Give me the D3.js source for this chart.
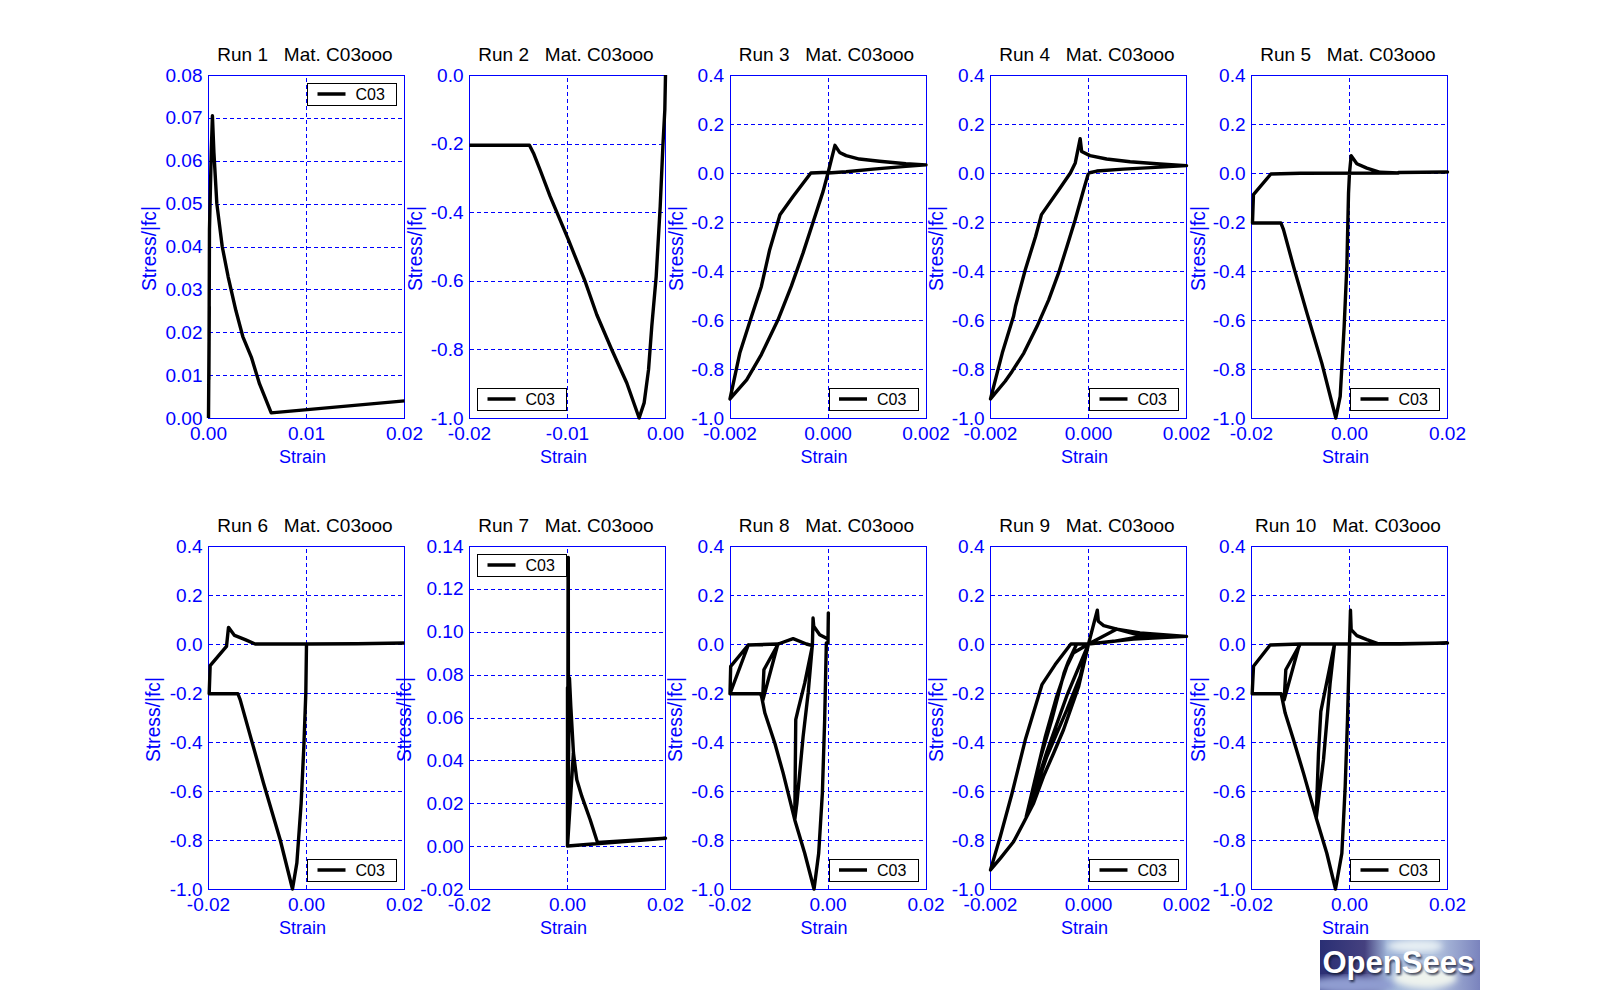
<!DOCTYPE html>
<html>
<head>
<meta charset="utf-8">
<script src="https://cdnjs.cloudflare.com/ajax/libs/d3/7.8.5/d3.min.js"></script>
<style>
  html, body { margin: 0; padding: 0; background: #fff; }
  text { font-family: "Liberation Sans", Arial, sans-serif; white-space: pre; }
</style>
</head>
<body>
<svg id="canvas" width="1600" height="1000"></svg>
<script>
// strain, stress/|fc|
const run1 = [[0,0],[0.00008,0.026],[0.00004,0.009],[0.0001,0.044],[0.00028,0.062],[0.0004,0.0705],[0.00055,0.062],[0.00085,0.05],[0.0014,0.04],[0.002,0.033],[0.0028,0.025],[0.0035,0.019],[0.0044,0.014],[0.0052,0.008],[0.0064,0.0012],[0.02,0.004]];
const run2 = [[0,0],[-0.00007,-0.102],[-0.00027,-0.209],[-0.00054,-0.383],[-0.00095,-0.587],[-0.0014,-0.733],[-0.00173,-0.859],[-0.00218,-0.956],[-0.00269,-1],[-0.00395,-0.898],[-0.00548,-0.801],[-0.00701,-0.699],[-0.0082,-0.602],[-0.0099,-0.481],[-0.01177,-0.354],[-0.01279,-0.277],[-0.01347,-0.228],[-0.01388,-0.205],[-0.02,-0.205]];
const run3 = [[0,0],[0.000142,0.113],[0.000237,0.084],[0.00037,0.071],[0.00064,0.057],[0.00105,0.048],[0.00159,0.038],[0.002,0.033],[0.00159,0.027],[0.00092,0.016],[0.00037,0.005],[0,0],[-0.0001,-0.075],[-0.00031,-0.204],[-0.00051,-0.327],[-0.00075,-0.463],[-0.00102,-0.599],[-0.00136,-0.741],[-0.00166,-0.844],[-0.002,-0.922],[-0.0018,-0.735],[-0.00156,-0.585],[-0.00136,-0.463],[-0.00119,-0.313],[-0.00098,-0.17],[-0.00071,-0.095],[-0.00035,0],[0,0.003]];
const run4 = [[0,0],[-0.0001,-0.068],[-0.00027,-0.19],[-0.00044,-0.3],[-0.00061,-0.408],[-0.00081,-0.517],[-0.00105,-0.626],[-0.00132,-0.735],[-0.00156,-0.81],[-0.0017,-0.85],[-0.002,-0.922],[-0.00176,-0.735],[-0.00153,-0.585],[-0.00149,-0.544],[-0.00129,-0.395],[-0.00108,-0.259],[-0.00096,-0.17],[-0.00058,-0.061],[-0.00037,0],[-0.00027,0.041],[-0.00017,0.14],[-0.00014,0.088],[0.00003,0.071],[0.00037,0.057],[0.00085,0.046],[0.00146,0.037],[0.002,0.03],[0.00146,0.024],[0.00071,0.016],[0.00017,0.008],[0,0]];
const run5 = [[0,0],[0.00034,0.071],[0.0015,0.038],[0.00354,0.02],[0.00626,0.003],[0.01,0],[0.01,0.002],[0.02,0.004],[0.01,0.002],[0.01,0],[-0.01,-0.001],[-0.01605,-0.004],[-0.0196,-0.088],[-0.0198,-0.204],[-0.014,-0.204],[-0.01347,-0.231],[-0.01143,-0.381],[-0.0087,-0.571],[-0.00565,-0.776],[-0.00279,-1],[-0.0019,-0.912],[-0.00109,-0.626],[-0.00054,-0.381],[-0.0002,-0.082],[0,0]];
const run6 = [[0,0],[-0.00014,-0.2],[-0.00054,-0.418],[-0.00109,-0.649],[-0.00197,-0.894],[-0.00286,-1],[-0.00537,-0.799],[-0.00878,-0.567],[-0.01354,-0.227],[-0.014,-0.203],[-0.01986,-0.203],[-0.01966,-0.088],[-0.01633,-0.01],[-0.01592,0.068],[-0.01469,0.035],[-0.01252,0.018],[-0.01048,0],[0,0],[0.01027,0.001],[0.02,0.004]];
const run7 = [[0,0],[0,0.074],[0.00005,0.01],[0.00012,0.1347],[0.00016,0.1347],[0.0002,0.03],[0,0],[0.0004,0.0784],[0.00068,0.065],[0.00122,0.0434],[0.0019,0.031],[0.00293,0.0232],[0.00463,0.0123],[0.00612,0.0017],[0.02,0.0037],[0.00068,0.0002],[0,0],[0.0012,0.0434]];
const run8 = [[0,0],[0.00007,0.127],[0,0.02],[-0.0017,0.038],[-0.00291,0.072],[-0.00305,0.106],[-0.00318,0],[-0.00405,-0.2],[-0.00508,-0.378],[-0.00635,-0.65],[-0.00678,-0.718],[-0.00658,-0.309],[-0.0061,-0.268],[-0.00475,-0.16],[-0.00318,-0.007],[-0.0044,0],[-0.00712,0.022],[-0.01017,0],[-0.01037,-0.01],[-0.01336,-0.234],[-0.01308,-0.105],[-0.01017,0],[-0.01627,-0.004],[-0.01986,-0.091],[-0.02,-0.203],[-0.01627,-0.004],[-0.02,-0.203],[-0.0138,-0.203],[-0.01356,-0.214],[-0.01288,-0.282],[-0.01085,-0.405],[-0.00915,-0.527],[-0.00678,-0.718],[-0.00475,-0.854],[-0.00285,-1],[-0.0019,-0.854],[-0.00115,-0.609],[-0.00068,-0.309],[-0.00034,0.004],[0,0]];
const run9 = [[0,0],[0.00018,0.138],[0.0002,0.093],[0.00031,0.075],[0.00058,0.061],[0.00105,0.045],[0.002,0.031],[0.00105,0.03],[0.00051,0.011],[0,0],[0.00058,0.061],[0.00105,0.035],[0.002,0.031],[0.00092,0.02],[0,0],[-0.0002,-0.173],[-0.00051,-0.35],[-0.00071,-0.445],[-0.00092,-0.541],[-0.00112,-0.65],[-0.00133,-0.732],[-0.00153,-0.807],[-0.0018,-0.875],[-0.002,-0.922],[-0.0018,-0.786],[-0.00156,-0.609],[-0.00129,-0.391],[-0.00095,-0.166],[-0.00068,-0.084],[-0.00036,0],[0,0],[-0.00017,-0.132],[-0.00044,-0.268],[-0.00085,-0.459],[-0.00127,-0.704],[-0.00099,-0.473],[-0.00075,-0.309],[-0.0005,-0.119],[-0.00041,-0.071],[-0.00024,0],[0,0],[-0.00031,-0.037],[-0.00044,-0.091],[-0.00065,-0.214],[-0.00088,-0.377],[-0.00127,-0.704],[-0.00085,-0.44],[-0.00044,-0.21],[0,0]];
const run10 = [[0,0],[0.0002,0.138],[0.00034,0.059],[0.0015,0.034],[0.00354,0.018],[0.00592,0.001],[0.01034,0.001],[0.02,0.004],[0.01034,0],[-0.00306,0],[-0.00395,-0.159],[-0.00531,-0.473],[-0.0068,-0.711],[-0.00633,-0.445],[-0.00585,-0.275],[-0.00306,0],[-0.01007,0],[-0.01041,-0.016],[-0.01333,-0.228],[-0.013,-0.105],[-0.01007,0],[-0.01619,-0.004],[-0.01959,-0.091],[-0.01986,-0.203],[-0.01395,-0.203],[-0.01313,-0.282],[-0.01143,-0.391],[-0.00939,-0.527],[-0.00667,-0.718],[-0.00463,-0.854],[-0.00286,-1],[-0.00156,-0.854],[-0.00088,-0.582],[-0.00041,-0.309],[0,0]];

const ticksWide = [-0.02, 0, 0.02];
const ticksNarrow = [-0.002, 0, 0.002];
const ticksRun1X = [0, 0.01, 0.02];
const ticksRun2X = [-0.02, -0.01, 0];
const stressTicks = [-1, -0.8, -0.6, -0.4, -0.2, 0, 0.2, 0.4];
const ticksRun1Y = [0, 0.01, 0.02, 0.03, 0.04, 0.05, 0.06, 0.07, 0.08];
const ticksRun2Y = [-1, -0.8, -0.6, -0.4, -0.2, 0];
const ticksRun7Y = [-0.02, 0, 0.02, 0.04, 0.06, 0.08, 0.1, 0.12, 0.14];

const LEFTS = [208.5, 469.5, 730, 990.5, 1251.5];
const TOPS = [75, 546];
const W = 196;
const H = 343;
const BLUE = '#0000ff';
const LEG_W = 89;
const LEG_H = 22;

const panels = [
  {curve: run1, xt: ticksRun1X, yt: ticksRun1Y, xd: 2, yd: 2, leg: 'tr', lab: 53},
  {curve: run2, xt: ticksRun2X, yt: ticksRun2Y, xd: 2, yd: 1, leg: 'bl', lab: 48},
  {curve: run3, xt: ticksNarrow, yt: stressTicks, xd: 3, yd: 1, leg: 'br', lab: 47.5},
  {curve: run4, xt: ticksNarrow, yt: stressTicks, xd: 3, yd: 1, leg: 'br', lab: 47.5},
  {curve: run5, xt: ticksWide, yt: stressTicks, xd: 2, yd: 1, leg: 'br', lab: 47},
  {curve: run6, xt: ticksWide, yt: stressTicks, xd: 2, yd: 1, leg: 'br', lab: 49},
  {curve: run7, xt: ticksWide, yt: ticksRun7Y, xd: 2, yd: 2, leg: 'tl', lab: 59},
  {curve: run8, xt: ticksWide, yt: stressTicks, xd: 2, yd: 1, leg: 'br', lab: 48},
  {curve: run9, xt: ticksNarrow, yt: stressTicks, xd: 3, yd: 1, leg: 'br', lab: 47.5},
  {curve: run10, xt: ticksWide, yt: stressTicks, xd: 2, yd: 1, leg: 'br', lab: 47}
];

const canvas = d3.select('#canvas');

panels.forEach((p, i) => {
  const left = LEFTS[i % 5];
  const top = TOPS[Math.floor(i / 5)];
  const g = canvas.append('g').attr('transform', `translate(${left},${top})`);

  const x = d3.scaleLinear().domain(d3.extent(p.xt)).range([0, W]);
  const y = d3.scaleLinear().domain(d3.extent(p.yt)).range([H, 0]);

  // axes double as the dashed grid
  const xAxis = d3.axisBottom(x).tickValues(p.xt)
    .tickFormat(v => v.toFixed(p.xd)).tickSize(-H).tickPadding(9);
  const yAxis = d3.axisLeft(y).tickValues(p.yt)
    .tickFormat(v => v.toFixed(p.yd)).tickSize(-W).tickPadding(6);

  const xG = g.append('g').attr('transform', `translate(-0.5,${H})`).call(xAxis);
  const yG = g.append('g').call(yAxis);
  // no grid line on the frame itself
  xG.selectAll('.tick line').filter(v => v === x.domain()[0] || v === x.domain()[1]).remove();
  yG.selectAll('.tick line').filter(v => v === y.domain()[0] || v === y.domain()[1]).remove();

  [xG, yG].forEach(a => {
    a.select('.domain').remove();
    a.selectAll('line').attr('stroke', BLUE).attr('stroke-dasharray', '4,3')
      .attr('shape-rendering', 'crispEdges');
    a.selectAll('text').attr('fill', BLUE).style('font-size', '19px')
      .style('font-family', '"Liberation Sans", Arial, sans-serif');
  });

  g.append('rect').attr('width', W).attr('height', H).attr('fill', 'none')
    .attr('stroke', BLUE).attr('shape-rendering', 'crispEdges');

  // legend
  const lx = p.leg[1] === 'r' ? W - 8 - LEG_W : 8;
  const ly = p.leg[0] === 't' ? 8 : H - 8 - LEG_H;
  const leg = g.append('g').attr('transform', `translate(${lx},${ly})`);
  leg.append('rect').attr('width', LEG_W).attr('height', LEG_H).attr('fill', '#fff')
    .attr('stroke', '#000').attr('shape-rendering', 'crispEdges');
  leg.append('line').attr('x1', 10).attr('x2', 38).attr('y1', 11).attr('y2', 11)
    .attr('stroke', '#000').attr('stroke-width', 3.5);
  leg.append('text').attr('x', 48).attr('y', 17).style('font-size', '16px').text('C03');

  const line = d3.line().x(d => x(d[0])).y(d => y(d[1]));
  g.append('path').datum(p.curve).attr('d', line).attr('fill', 'none')
    .attr('stroke', '#000').attr('stroke-width', 3.4).attr('stroke-linejoin', 'round');

  g.append('text').attr('x', W / 2 - 1.5).attr('y', -14.5).attr('text-anchor', 'middle')
    .attr('fill', '#000').style('font-size', '19px')
    .text(`Run ${i + 1}   Mat. C03ooo`);
  g.append('text').attr('x', W / 2 - 4).attr('y', H + 45).attr('text-anchor', 'middle')
    .attr('fill', BLUE).style('font-size', '18px').text('Strain');
  g.append('text').attr('transform', `translate(${-p.lab},${H / 2 + 2}) rotate(-90)`)
    .attr('text-anchor', 'middle').attr('fill', BLUE).style('font-size', '19.3px')
    .text('Stress/|fc|');
});

// logo in the lower right corner
const defs = canvas.append('defs');
const grad = defs.append('linearGradient').attr('id', 'sky');
[['0%', '#2a2f74'], ['28%', '#45417f'], ['42%', '#9fb4d8'], ['70%', '#b5c6e0'], ['100%', '#7a83bd']]
  .forEach(s => grad.append('stop').attr('offset', s[0]).attr('stop-color', s[1]));
defs.append('filter').attr('id', 'soft').append('feGaussianBlur').attr('stdDeviation', 3);
defs.append('filter').attr('id', 'softer').append('feGaussianBlur').attr('stdDeviation', 1.2);
defs.append('clipPath').attr('id', 'logoClip').append('rect')
  .attr('x', 1320).attr('y', 940).attr('width', 160).attr('height', 50);

const logo = canvas.append('g').attr('clip-path', 'url(#logoClip)');
logo.append('rect').attr('x', 1320).attr('y', 940).attr('width', 160).attr('height', 50).attr('fill', 'url(#sky)');
logo.append('ellipse').attr('cx', 1350).attr('cy', 985).attr('rx', 45).attr('ry', 9)
  .attr('fill', '#8f9cd0').attr('filter', 'url(#soft)');
logo.append('ellipse').attr('cx', 1425).attr('cy', 978).attr('rx', 32).attr('ry', 10)
  .attr('fill', '#eef3ee').attr('filter', 'url(#soft)');
logo.append('ellipse').attr('cx', 1415).attr('cy', 946).attr('rx', 28).attr('ry', 6)
  .attr('fill', '#e8f0f4').attr('filter', 'url(#soft)');
logo.append('text').attr('x', 1324).attr('y', 975).attr('fill', '#10152e').attr('opacity', 0.8)
  .attr('filter', 'url(#softer)').style('font-size', '31px').style('font-weight', 'bold').text('OpenSees');
logo.append('text').attr('x', 1322.5).attr('y', 973).attr('fill', '#fff')
  .style('font-size', '31px').style('font-weight', 'bold').text('OpenSees');
</script>
</body>
</html>
